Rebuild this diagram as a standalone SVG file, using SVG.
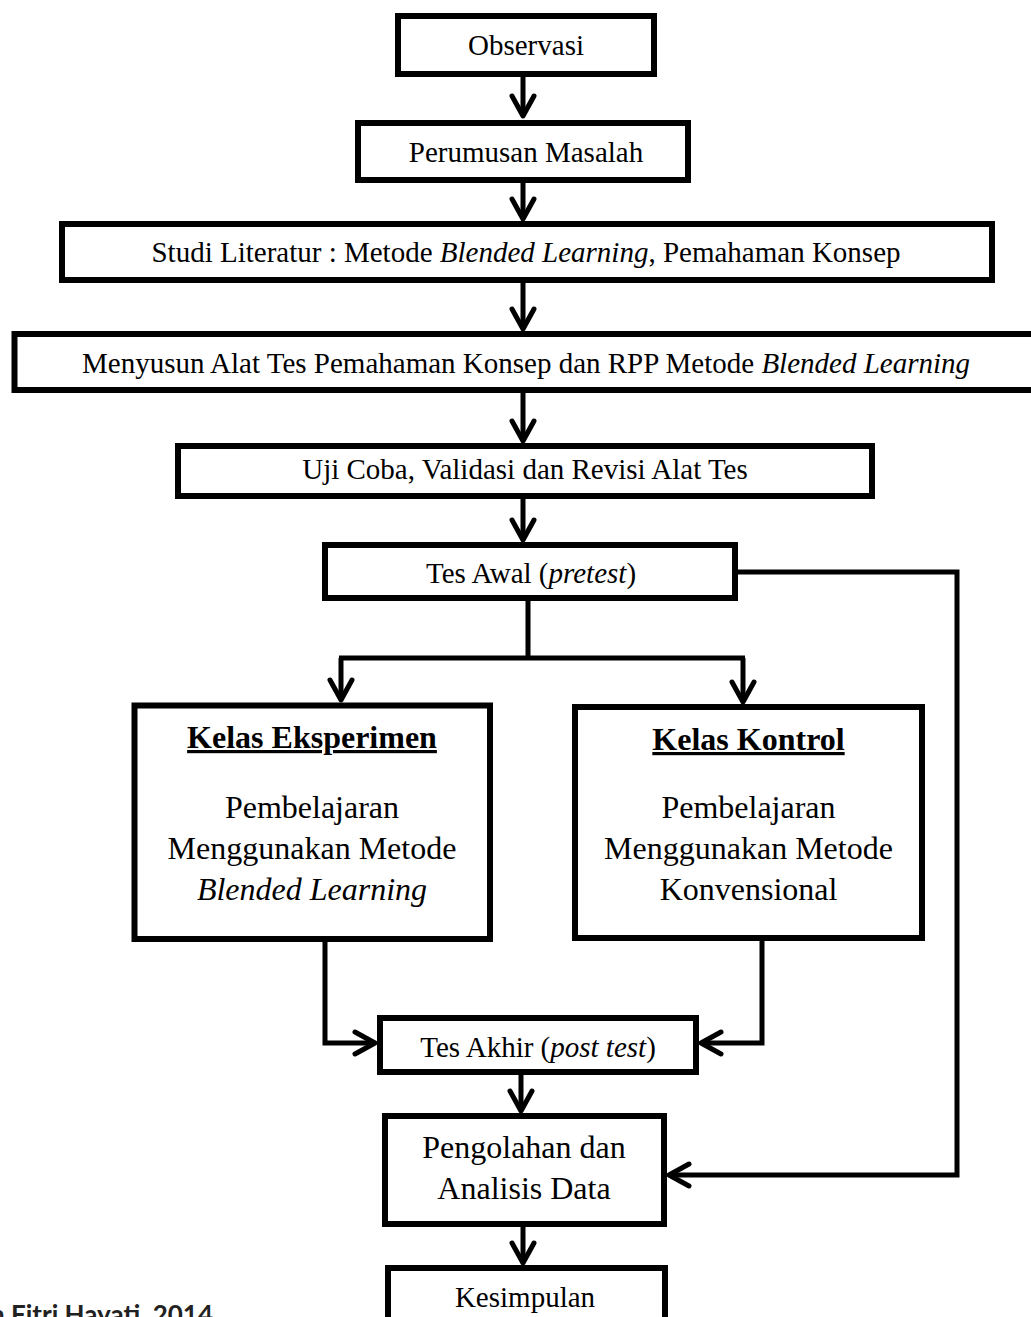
<svg xmlns="http://www.w3.org/2000/svg" width="1031" height="1317" viewBox="0 0 1031 1317">
<style>
.box{fill:#fff;stroke:#000;stroke-width:6}
.t{font-family:"Liberation Serif","Times New Roman",serif;font-size:29px;fill:#000;text-anchor:middle}
.b{font-size:32px}
.h{font-size:32px;font-weight:bold;text-decoration:underline}
.i{font-style:italic}
.c{fill:none;stroke:#000;stroke-width:5}
.src{font-family:Lato,"Liberation Sans",sans-serif;font-weight:bold;font-size:26px;fill:#222;text-anchor:end}
</style>
<defs>
<marker id="ah" markerUnits="userSpaceOnUse" markerWidth="40" markerHeight="40" viewBox="-30 -20 40 40" refX="0" refY="0" orient="auto" overflow="visible">
<path d="M-20,-11 L0,0 L-20,11" fill="none" stroke="#000" stroke-width="5" stroke-linecap="round" stroke-linejoin="round"/>
</marker>
</defs>
<rect width="1031" height="1317" fill="#fff"/>
<g id="connectors">
<path class="c" d="M523,74 V116" marker-end="url(#ah)"/>
<path class="c" d="M523,180 V219" marker-end="url(#ah)"/>
<path class="c" d="M523,280 V329" marker-end="url(#ah)"/>
<path class="c" d="M523,390 V441" marker-end="url(#ah)"/>
<path class="c" d="M523,496 V540" marker-end="url(#ah)"/>
<path class="c" d="M528,598 V658 M339,658 H745"/>
<path class="c" d="M341,658 V700" marker-end="url(#ah)"/>
<path class="c" d="M743,658 V702" marker-end="url(#ah)"/>
<path class="c" d="M325,939 V1043 H375" marker-end="url(#ah)"/>
<path class="c" d="M762,938 V1043 H701" marker-end="url(#ah)"/>
<path class="c" d="M521,1072 V1111" marker-end="url(#ah)"/>
<path class="c" d="M523,1224 V1263" marker-end="url(#ah)"/>
<path class="c" d="M735,572 H957 V1175 H669" marker-end="url(#ah)"/>
</g>
<g id="observasi"><rect class="box" x="398" y="16" width="256" height="58"/><text class="t" x="526" y="55">Observasi</text></g>
<g id="perumusan"><rect class="box" x="358" y="123" width="330" height="57"/><text class="t" x="526" y="162">Perumusan Masalah</text></g>
<g id="studi"><rect class="box" x="62" y="224" width="930" height="56"/><text class="t" x="526" y="262">Studi Literatur : Metode <tspan class="i">Blended Learning</tspan>, Pemahaman Konsep</text></g>
<g id="menyusun"><rect class="box" x="14.5" y="334" width="1030" height="56"/><text class="t" x="526" y="373">Menyusun Alat Tes Pemahaman Konsep dan RPP Metode <tspan class="i">Blended Learning</tspan></text></g>
<g id="ujicoba"><rect class="box" x="178" y="446" width="694" height="50"/><text class="t" x="525" y="479">Uji Coba, Validasi dan Revisi Alat Tes</text></g>
<g id="tesawal"><rect class="box" x="325" y="545" width="410" height="53"/><text class="t" x="531" y="583">Tes Awal (<tspan class="i">pretest</tspan>)</text></g>
<g id="eksperimen"><rect class="box" x="134.5" y="705.5" width="355.5" height="233.5"/>
<text class="t h" x="312" y="748">Kelas Eksperimen</text>
<text class="t b" x="312" y="818">Pembelajaran</text>
<text class="t b" x="312" y="859">Menggunakan Metode</text>
<text class="t b i" x="312" y="900">Blended Learning</text></g>
<g id="kontrol"><rect class="box" x="575" y="707" width="347" height="231"/>
<text class="t h" x="748.5" y="750">Kelas Kontrol</text>
<text class="t b" x="748.5" y="818">Pembelajaran</text>
<text class="t b" x="748.5" y="859">Menggunakan Metode</text>
<text class="t b" x="748.5" y="900">Konvensional</text></g>
<g id="tesakhir"><rect class="box" x="380" y="1018" width="316" height="54"/><text class="t" x="538" y="1057">Tes Akhir (<tspan class="i">post test</tspan>)</text></g>
<g id="pengolahan"><rect class="box" x="385" y="1116" width="279" height="108"/>
<text class="t b" x="524" y="1158">Pengolahan dan</text>
<text class="t b" x="524" y="1199">Analisis Data</text></g>
<g id="kesimpulan"><rect class="box" x="388" y="1268" width="277" height="100"/><text class="t" x="525" y="1307">Kesimpulan</text></g>
<text class="src" x="213" y="1324">n Fitri Hayati, 2014</text>
</svg>
